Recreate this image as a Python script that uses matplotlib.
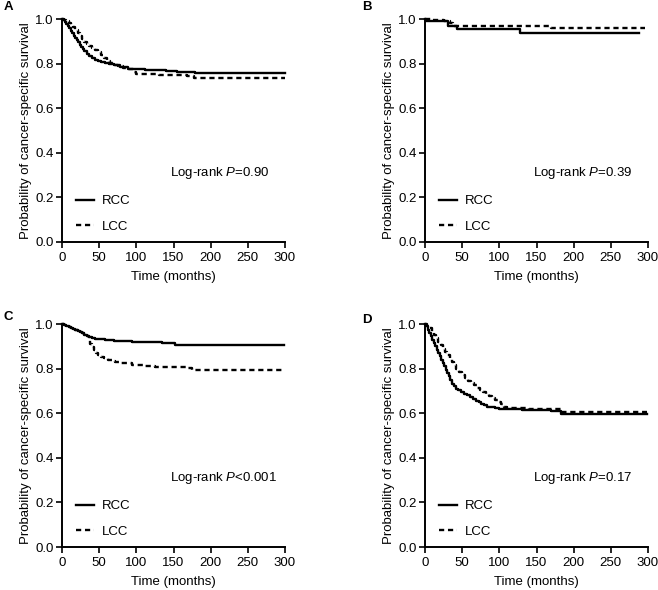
import matplotlib
matplotlib.use("Agg")
import matplotlib.pyplot as plt

plt.rcParams['font.family'] = ['Liberation Sans', 'DejaVu Sans']
plt.rcParams['mathtext.fontset'] = 'custom'
plt.rcParams['mathtext.rm'] = 'Liberation Sans'
plt.rcParams['mathtext.it'] = 'Liberation Sans:italic'

# Panel A
a_rcc_t = [0, 2, 4, 6, 8, 10, 12, 14, 16, 18, 20, 22, 24, 26, 28, 30, 33, 36, 40, 44, 48, 53, 58, 63, 70, 78, 89, 100, 112, 125, 140, 155, 170, 179, 300]
a_rcc_s = [1.0, 0.995, 0.988, 0.978, 0.968, 0.958, 0.948, 0.937, 0.926, 0.915, 0.905, 0.895, 0.885, 0.874, 0.864, 0.855, 0.845, 0.836, 0.825, 0.816, 0.81, 0.806, 0.802, 0.798, 0.792, 0.785, 0.777, 0.774, 0.772, 0.770, 0.767, 0.764, 0.762, 0.756, 0.756]
a_lcc_t = [0, 3, 6, 9, 12, 15, 18, 21, 24, 27, 30, 33, 36, 40, 44, 48, 52, 56, 60, 65, 70, 76, 82, 89, 96, 99, 110, 130, 150, 168, 177, 300]
a_lcc_s = [1.0, 0.995, 0.99, 0.982, 0.973, 0.962, 0.95, 0.937, 0.923, 0.91, 0.898, 0.888, 0.878, 0.868, 0.86, 0.852, 0.838, 0.825, 0.812, 0.803, 0.795, 0.788, 0.782, 0.776, 0.762, 0.755, 0.752, 0.75, 0.748, 0.746, 0.734, 0.734]

# Panel B
b_rcc_t = [0, 1, 31, 43, 128, 288]
b_rcc_s = [1.0, 0.99, 0.968, 0.955, 0.937, 0.937]
b_lcc_t = [0, 10, 25, 33, 38, 169, 296]
b_lcc_s = [1.0, 0.995, 0.99, 0.98, 0.97, 0.958, 0.958]

# Panel C
c_rcc_t = [0, 3, 6, 9, 12, 15, 18, 21, 24, 27, 30, 33, 36, 40, 45, 50, 58, 70, 82, 94, 110, 134, 152, 298]
c_rcc_s = [1.0, 0.997, 0.993, 0.988, 0.983, 0.978, 0.973, 0.968, 0.963, 0.958, 0.952, 0.946, 0.941, 0.937, 0.934, 0.931, 0.929, 0.926, 0.924, 0.921, 0.918, 0.913, 0.906, 0.906]
c_lcc_t = [0, 3, 6, 9, 12, 15, 18, 21, 24, 27, 30, 33, 36, 38, 40, 43, 46, 49, 53, 57, 62, 67, 71, 80, 94, 110, 125, 150, 170, 175, 298]
c_lcc_s = [1.0, 0.997, 0.993, 0.988, 0.983, 0.978, 0.973, 0.968, 0.963, 0.958, 0.952, 0.945, 0.93, 0.912, 0.895, 0.882, 0.872, 0.862, 0.853, 0.846, 0.84, 0.835, 0.83, 0.825, 0.818, 0.812, 0.807, 0.805, 0.803, 0.795, 0.795]

# Panel D
d_rcc_t = [0, 2, 4, 6, 8, 10, 12, 14, 16, 18, 20, 22, 24, 26, 28, 30, 32, 34, 36, 39, 42, 45, 48, 52, 56, 60, 64, 68, 72, 76, 80, 84, 88, 94, 100, 106, 130, 169, 183, 298]
d_rcc_s = [1.0, 0.99, 0.975, 0.96, 0.945, 0.93, 0.915, 0.9, 0.885, 0.87, 0.855, 0.84, 0.825, 0.81, 0.795, 0.78, 0.765, 0.748, 0.73, 0.72, 0.71, 0.703, 0.696, 0.688, 0.68, 0.672, 0.664, 0.656, 0.648, 0.641, 0.635, 0.63, 0.626, 0.622, 0.62, 0.617, 0.614, 0.61, 0.598, 0.598]
d_lcc_t = [0, 3, 6, 9, 12, 15, 18, 21, 24, 27, 30, 33, 36, 39, 42, 46, 50, 54, 58, 62, 66, 70, 74, 78, 82, 86, 90, 94, 98, 102, 106, 110, 140, 178, 183, 298]
d_lcc_s = [1.0, 0.99, 0.98, 0.965, 0.95, 0.935, 0.92, 0.905, 0.89, 0.875, 0.86, 0.845, 0.83, 0.815, 0.8, 0.785, 0.77, 0.758, 0.746, 0.735, 0.725, 0.715, 0.706, 0.697, 0.688, 0.679, 0.67, 0.66, 0.65, 0.64, 0.63, 0.622, 0.62, 0.618, 0.607, 0.607]

labels = ['A', 'B', 'C', 'D']
pvals = ['Log-rank $P$=0.90', 'Log-rank $P$=0.39', 'Log-rank $P$<0.001', 'Log-rank $P$=0.17']
series = [
    (a_rcc_t, a_rcc_s, a_lcc_t, a_lcc_s),
    (b_rcc_t, b_rcc_s, b_lcc_t, b_lcc_s),
    (c_rcc_t, c_rcc_s, c_lcc_t, c_lcc_s),
    (d_rcc_t, d_rcc_s, d_lcc_t, d_lcc_s),
]
xticks = [0, 50, 100, 150, 200, 250, 300]
yticks = [0.0, 0.2, 0.4, 0.6, 0.8, 1.0]

FS = 9.5
W, H = 658, 590
fig = plt.figure(figsize=(W / 100, H / 100), dpi=100)
positions = [(62, 19), (425, 19), (62, 324), (425, 324)]
letter_pos = [(4, 7), (362, 7), (4, 317), (362, 320)]
aw, ah = 223, 223

for i, ((rt, rs, lt, ls), (px, py)) in enumerate(zip(series, positions)):
    ax = fig.add_axes([px / W, 1 - (py + ah) / H, aw / W, ah / H])
    ax.step(rt, rs, where='post', color='black', lw=1.7, label='RCC', clip_on=False)
    ax.step(lt, ls, where='post', color='black', lw=1.7, ls=(0, (2.2, 1.6)), label='LCC', clip_on=False)
    ax.set_xlim(0, 300)
    ax.set_ylim(0, 1.0)
    ax.set_xticks(xticks)
    ax.set_yticks(yticks)
    ax.set_yticklabels([f"{v:.1f}" for v in yticks])
    for s in ['top', 'right']:
        ax.spines[s].set_visible(False)
    for s in ['left', 'bottom']:
        ax.spines[s].set_linewidth(1.4)
    ax.tick_params(direction='out', length=4, width=1.2, labelsize=FS, pad=2)
    ax.tick_params(axis='x', pad=3)
    ax.set_xlabel('Time (months)', fontsize=FS, labelpad=5)
    ax.set_ylabel('Probability of cancer-specific survival', fontsize=FS, labelpad=2)
    ax.text(145, 0.31, pvals[i], fontsize=FS, ha='left', va='center')
    ax.legend(loc='lower left', bbox_to_anchor=(0.02, 0.0), frameon=False, fontsize=FS,
              handlelength=1.4, handletextpad=0.55, labelspacing=1.0, borderaxespad=0.3)
    fig.text(letter_pos[i][0] / W, 1 - letter_pos[i][1] / H, labels[i], fontsize=9.5,
             fontweight='bold', ha='left', va='center')

fig.savefig('out.png', dpi=100)
